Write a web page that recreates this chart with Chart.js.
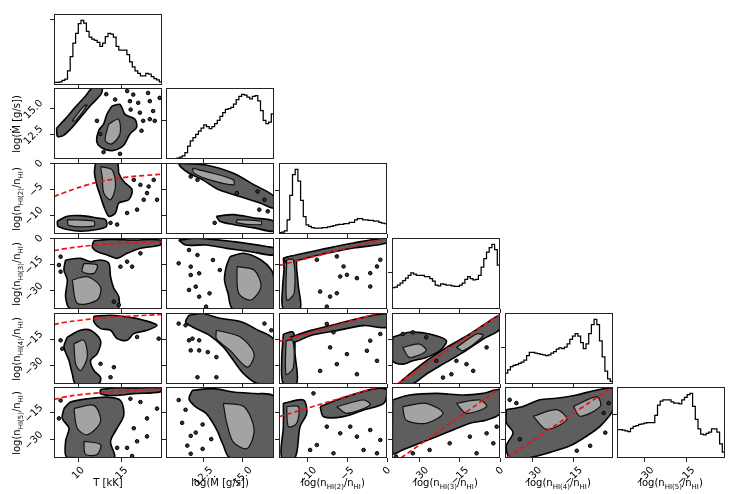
<!DOCTYPE html>
<html>
<head>
<meta charset="utf-8">
<script src="https://cdn.jsdelivr.net/npm/chart.js@4/dist/chart.umd.min.js"></script>
<style>
  body { margin: 0; background: #fff; width: 747px; height: 494px; position: relative; overflow: hidden; font-family: "DejaVu Sans", sans-serif; }
  canvas { position: absolute; }
  .lab { position: absolute; font-size: 10px; white-space: nowrap; color: #000; line-height: 13px; }
  .lab sub { font-size: 7px; vertical-align: -3px; line-height: 0; }
  .ylab { transform: translate(-50%, -50%) rotate(-90deg); }
  .xlab { transform: translateX(-50%); }
</style>
</head>
<body>
<script>
// axis ranges and ticks (T, Mdot, n2, n3, n4, n5)
const axisMin = [7.2, 10.1, -13.6, -40.3, -40.2, -40.2];
const axisMax = [19.6, 17.0, 0, 0, -0.4, -0.8];
const tickVals = [[10, 15], [12.5, 15], [-10, -5, 0], [-30, -15, 0], [-30, -15], [-30, -15]];
const tickText = [['10', '15'], ['12.5', '15.0'], ['−10', '−5', '0'], ['−30', '−15', '0'], ['−30', '−15'], ['−30', '−15']];
const axisLabels = ['T [kK]', 'log(Ṁ [g/s])', 'log(n<sub>HI(2)</sub>/n<sub>HI</sub>)',
  'log(n<sub>HI(3)</sub>/n<sub>HI</sub>)', 'log(n<sub>HI(4)</sub>/n<sub>HI</sub>)', 'log(n<sub>HI(5)</sub>/n<sub>HI</sub>)'];

// 1D histograms, 40 bins, peak = 100
const histT = [4, 4, 5, 7, 9, 22, 44, 65, 80, 95, 100, 96, 83, 74, 71, 69, 66, 60, 65, 75,
  80, 79, 74, 60, 54, 54, 54, 47, 36, 28, 22, 18, 14, 14, 18, 17, 13, 10, 8, 5];
const histM = [0, 0, 0, 0.5, 1.5, 3, 5, 10, 20, 28, 33, 38, 43, 48, 53, 50, 47, 50, 55, 60,
  66, 72, 77, 78, 80, 85, 92, 97, 100, 99, 96, 93, 97, 98, 90, 75, 60, 55, 57, 70];
const histN2 = [2, 3, 5, 22, 60, 92, 100, 82, 52, 27, 14, 12, 10, 9, 9, 9, 10, 10, 11, 12,
  13, 14, 15, 15, 16, 16, 18, 18, 22, 24, 24, 22, 22, 21, 21, 20, 20, 18, 17, 16];
const histN3 = [33, 34, 37, 40, 44, 48, 52, 56, 54, 52, 52, 52, 50, 50, 47, 43, 37, 36, 39, 38,
  37, 37, 36, 35, 35, 37, 40, 46, 50, 47, 45, 46, 52, 65, 78, 88, 95, 100, 92, 68];
const histN4 = [17, 22, 27, 29, 30, 32, 34, 37, 44, 49, 49, 48, 47, 46, 45, 44, 45, 48, 50, 54,
  56, 55, 57, 62, 69, 74, 78, 74, 64, 55, 62, 78, 92, 100, 92, 67, 42, 20, 8, 4];
const histN5 = [44, 44, 43, 42, 41, 46, 49, 50, 52, 53, 54, 55, 55, 55, 66, 82, 88, 90, 90, 90,
  87, 85, 85, 84, 90, 94, 98, 100, 80, 60, 45, 37, 36, 38, 40, 45, 45, 40, 22, 9];
const histTickAt = [102, 60, 67, 56, 57, 67];

// 2D density contours: outer (dark) regions, inner (light) regions, isolated specks, red relation
const darkMT = [
  [[7.5, 13.1], [8.5, 14.0], [9.7, 15.2], [10.8, 16.2], [11.6, 17.0], [12.7, 17.0], [12.6, 16.4], [11.5, 15.4], [10.4, 14.3], [9.3, 13.2], [8.3, 12.4], [7.6, 12.3]],
  [[13.84, 15.24], [14.78, 15.4], [15.35, 14.44], [16.49, 13.97], [16.68, 13.17], [15.92, 12.53], [15.16, 11.41], [14.03, 10.93], [12.89, 11.09], [12.13, 11.73], [12.32, 12.85], [12.89, 13.49], [13.27, 14.44]]
];
const lightMT = [
  [[9.29, 13.8], [10.61, 15.24], [10.99, 15.34], [9.66, 13.8]],
  [[13.46, 13.49], [14.6, 13.97], [14.78, 12.53], [13.84, 11.57], [13.08, 11.89]]
];
const dotsMT = [[14.22, 15.88], [15.92, 15.72], [16.87, 15.56], [18.2, 15.72], [18.58, 14.76], [18.2, 13.97], [18.77, 13.81], [17.44, 13.81], [17.06, 14.6], [16.3, 16.36], [18.0, 16.52], [19.33, 16.04], [12.13, 13.81], [12.51, 12.53], [12.89, 10.77], [17.25, 12.85], [14.78, 10.6], [13.2, 16.4], [15.6, 16.7], [16.0, 14.9]];

const darkN2T = [
  [[7.58, -11.15], [8.73, -10.2], [10.25, -10.08], [12.16, -10.52], [13.11, -10.84], [13.23, -12.1], [12.16, -12.74], [10.25, -13.06], [8.73, -12.74], [7.66, -12.1]],
  [[11.97, 0], [14.45, 0], [14.64, -1.96], [15.21, -3.55], [16.17, -5.13], [15.78, -7.04], [14.64, -7.67], [14.26, -9.57], [13.49, -10.2], [12.92, -8.3], [12.54, -6.4], [12.16, -4.5], [11.85, -1.96]]
];
const lightN2T = [
  [[8.73, -10.84], [11.78, -11.15], [11.78, -12.1], [8.92, -11.98]],
  [[12.54, -0.7], [13.88, -1.33], [14.26, -4.5], [13.69, -7.04], [12.92, -5.77], [12.73, -2.6]]
];
const dotsN2T = [[16.36, -3.23], [17.12, -4.18], [18.07, -4.5], [18.65, -3.23], [17.5, -7.04], [16.74, -8.94], [15.59, -9.57], [13.69, -11.47], [14.45, -11.79], [17.88, -5.77], [19.03, -7.04]];
const redN2T = [[7.2, -6.4], [8.5, -5.6], [9.5, -5.0], [11, -4.2], [12.5, -3.55], [14, -3.1], [15.6, -2.7], [17.5, -2.4], [19.6, -2.15]];

const darkN3T = [
  [[11.78, -1.51], [13.69, -0.76], [16.36, -1.14], [19.41, -1.14], [19.41, -3.97], [17.12, -5.86], [15.59, -8.7], [14.45, -11.54], [13.3, -9.65], [12.16, -7.76], [11.59, -4.92]],
  [[8.53, -12.49], [10.25, -11.54], [11.4, -13.43], [12.54, -12.49], [13.49, -14.38], [13.69, -21.95], [14.07, -28.57], [14.64, -33.3], [14.45, -40.3], [9.1, -40.3], [8.53, -33.3], [8.73, -23.84], [8.34, -18.16]]
];
const lightN3T = [
  [[9.3, -23.84], [11.02, -21.95], [12.54, -27.62], [12.16, -35.19], [9.87, -37.08]],
  [[10.63, -14.38], [12.16, -15.33], [11.78, -20.06], [10.44, -19.11]]
];
const dotsN3T = [[7.77, -15.33], [7.96, -19.11], [14.83, -16.27], [15.59, -13.43], [16.17, -16.27], [14.07, -36.14], [14.64, -38.03], [7.96, -10.6], [17.12, -8.7]];
const redN3T = [[7.2, -7.2], [8.5, -6.0], [10, -5.0], [11.5, -4.2], [13, -3.6], [15, -3.0], [17, -2.6], [19.6, -2.1]];

const darkN4T = [
  [[11.78, -2.19], [13.69, -1.63], [15.59, -2.56], [17.5, -4.45], [19.03, -7.27], [17.88, -10.09], [16.36, -11.97], [15.59, -15.73], [14.45, -14.79], [13.69, -10.09], [12.54, -9.15], [11.78, -5.39]],
  [[8.73, -13.85], [10.25, -10.09], [11.4, -10.09], [12.54, -15.73], [12.16, -23.25], [11.4, -27.01], [11.78, -32.65], [12.54, -36.41], [12.35, -39.98], [9.68, -39.98], [9.3, -34.53], [8.92, -27.01], [8.34, -19.49]]
];
const lightN4T = [[[9.49, -17.61], [10.63, -15.73], [11.02, -25.13], [10.25, -32.65], [9.68, -28.89]]];
const dotsN4T = [[7.96, -15.73], [8.15, -20.43], [16.74, -13.85], [19.22, -14.79], [12.54, -28.89], [14.07, -30.77], [13.69, -36.41]];
const redN4T = [[7.2, -6.9], [8.5, -5.6], [10, -4.6], [12, -3.5], [14, -2.7], [16.5, -2.0], [19.6, -1.25]];

const darkN5T = [
  [[8.34, -12.79], [9.11, -9.16], [11.02, -7.35], [13.3, -6.44], [14.83, -8.26], [15.21, -16.42], [14.45, -23.67], [13.69, -30.93], [14.07, -40], [8.73, -40], [8.53, -30.93], [8.92, -23.67], [8.15, -18.23]],
  [[12.54, -2.2], [14.07, -1.3], [16.36, -1.3], [19.41, -1.3], [19.41, -3.5], [16.36, -4.5], [14.07, -5.5], [12.54, -4.5]]
];
const lightN5T = [
  [[9.49, -12.79], [11.78, -10.98], [12.54, -20.05], [11.02, -27.3], [9.87, -23.67]],
  [[10.63, -30.93], [12.54, -32.74], [12.16, -38.19], [10.82, -38.19]]
];
const dotsN5T = [[7.77, -18.23], [7.96, -8.26], [15.97, -7.35], [17.12, -9.16], [17.88, -18.23], [19.03, -12.79], [16.36, -23.67], [16.74, -30.93], [17.88, -28.21], [15.59, -34.56], [16.17, -39.09], [14.45, -34.56]];
const redN5T = [[7.2, -7.7], [8.5, -6.3], [10, -5.2], [12, -4.2], [14, -3.4], [16.5, -2.6], [19.6, -1.9]];

const darkN2M = [
  [[10.91, -0.06], [12.66, -0.38], [14.41, -1.97], [15.73, -4.19], [17.0, -6.4], [17.0, -8.62], [16.12, -7.67], [14.8, -6.4], [13.49, -5.14], [12.44, -3.23], [11.57, -1.97], [11.02, -0.7]],
  [[13.32, -10.2], [14.41, -9.89], [15.73, -10.52], [17.0, -11.16], [17.0, -13.06], [15.73, -12.42], [14.41, -11.79], [13.54, -11.16]]
];
const lightN2M = [
  [[11.79, -1.01], [13.1, -1.97], [14.41, -3.23], [14.41, -4.19], [12.88, -3.23], [11.9, -1.97]],
  [[14.63, -10.84], [16.17, -11.16], [16.17, -11.79], [14.63, -11.47]]
];
const dotsN2M = [[11.68, -2.6], [12.11, -3.23], [14.63, -5.77], [15.95, -5.45], [16.39, -7.04], [16.6, -9.26], [13.21, -11.47], [16.06, -8.94]];

const darkN3M = [
  [[10.91, -1.14], [12.22, -0.19], [14.41, -2.08], [16.6, -4.92], [17.0, -5.87], [17.0, -9.65], [15.51, -7.76], [13.98, -5.87], [12.66, -3.97], [11.35, -3.97]],
  [[14.19, -10.6], [15.07, -8.7], [16.17, -12.49], [16.83, -18.16], [17.0, -23.84], [17.0, -40.3], [14.38, -40.3], [14.06, -31.41], [13.84, -23.84], [13.95, -16.27]]
];
const lightN3M = [[[14.63, -16.27], [15.73, -18.16], [16.17, -27.62], [15.51, -35.19], [14.74, -31.41]]];
const dotsN3M = [[10.91, -14.38], [11.68, -16.27], [11.68, -21.0], [12.22, -20.06], [12.0, -27.62], [11.57, -29.5], [12.22, -33.3], [12.88, -31.41], [12.66, -38.97], [13.54, -18.16], [13.1, -12.49], [11.57, -6.81], [12.11, -9.65]];

const darkN4M = [[[11.57, -1.63], [12.44, -0.69], [13.54, -3.32], [14.85, -5.2], [15.95, -9.9], [17.0, -15.54], [17.0, -40], [15.95, -40], [15.07, -34.53], [14.41, -27.01], [13.76, -19.49], [12.88, -12.91], [11.79, -8.21], [11.35, -5.39]]];
const lightN4M = [[[13.32, -10.09], [14.85, -13.85], [15.73, -23.25], [15.29, -30.77], [14.19, -21.37], [13.32, -14.79]]];
const dotsN4M = [[10.91, -6.33], [11.35, -7.27], [11.57, -15.73], [11.79, -14.79], [12.22, -15.73], [11.68, -21.37], [12.22, -21.37], [12.77, -22.31], [13.32, -25.13], [12.11, -36.41], [13.32, -36.41], [16.39, -6.33], [16.83, -10.09]];

const darkN5M = [[[11.79, -2.63], [13.1, -1.72], [14.41, -3.53], [15.73, -4.43], [17.0, -6.24], [17.0, -40], [14.19, -40], [13.76, -33.14], [13.32, -24.11], [12.66, -15.45], [12.0, -11.84], [11.57, -7.32]]];
const lightN5M = [[[13.76, -9.85], [15.07, -11.66], [15.73, -24.3], [15.29, -34.95], [14.41, -31.5], [13.98, -20.69]]];
const dotsN5M = [[10.91, -8.04], [11.35, -13.46], [11.13, -20.69], [11.68, -27.91], [12.0, -26.1], [11.46, -33.33], [12.44, -35.14], [11.68, -37.84], [12.99, -29.72], [12.44, -21.59]];

const darkN3N2 = [
  [[-13.05, -11.4], [-11.37, -9.5], [-8.42, -6.65], [-4.21, -2.85], [0, 0], [0, -2.85], [-4.21, -5.7], [-8.42, -9.5], [-10.95, -12.35], [-12.63, -14.25]],
  [[-13.05, -11.4], [-11.58, -10.45], [-11.37, -18.05], [-11.16, -27.55], [-10.95, -40.3], [-13.05, -40.3], [-13.14, -27.55], [-12.97, -18.05]]
];
const lightN3N2 = [[[-12.63, -12.35], [-11.79, -12.35], [-11.7, -31.35], [-12.63, -35.15]]];
const dotsN3N2 = [[-8.84, -12.35], [-6.32, -10.45], [-5.47, -16.15], [-5.05, -20.9], [-3.79, -22.8], [-2.11, -19.95], [-1.26, -16.15], [-8.42, -30.4], [-7.16, -33.25], [-6.32, -31.35], [-7.58, -38.95], [-2.11, -27.55], [-0.84, -12.35], [-5.89, -21.85]];
const redN3N2 = [[-13.6, -15.6], [0, 0]];

const darkN4N2 = [
  [[-12.21, -14.04], [-9.68, -10.28], [-6.32, -6.52], [-2.95, -2.76], [0, -0.88], [0, -8.4], [-2.95, -7.46], [-6.32, -10.28], [-9.68, -13.1], [-11.79, -16.86]],
  [[-13.05, -12.16], [-11.79, -11.22], [-11.58, -23.44], [-11.37, -39.98], [-13.05, -39.98], [-13.26, -27.2]]
];
const lightN4N2 = [[[-12.71, -15.92], [-11.87, -15.92], [-11.79, -30.96], [-12.71, -34.72]]];
const dotsN4N2 = [[-7.58, -6.52], [-6.74, -11.22], [-7.16, -19.68], [-5.05, -23.44], [-2.53, -21.56], [-2.11, -15.92], [-0.84, -12.16], [-6.32, -29.08], [-3.79, -34.72], [-1.26, -27.2], [-8.42, -32.84]];
const redN4N2 = [[-13.6, -16.3], [-1.1, -0.5]];

const darkN5N2 = [
  [[-13.05, -9.87], [-10.53, -8.02], [-10.11, -15.41], [-10.95, -22.81], [-11.58, -40], [-13.26, -40], [-13.05, -22.81]],
  [[-8.42, -11.72], [-6.32, -8.02], [-3.79, -4.33], [-1.26, -1.55], [0, -2.48], [-0.42, -9.87], [-2.95, -13.57], [-5.47, -17.26], [-8.0, -17.26]]
];
const lightN5N2 = [
  [[-12.63, -11.72], [-11.16, -11.72], [-11.37, -20.96], [-12.42, -22.81]],
  [[-6.32, -11.72], [-2.95, -8.02], [-2.11, -10.79], [-5.05, -15.41]]
];
const dotsN5N2 = [[-9.26, -4.33], [-7.58, -22.81], [-5.89, -26.5], [-4.63, -22.81], [-3.79, -28.35], [-2.11, -24.65], [-0.84, -30.2], [-9.68, -35.74], [-8.84, -32.97], [-6.74, -37.59], [-2.95, -35.74], [-1.26, -37.59]];
const redN5N2 = [[-13.6, -17.3], [-1.3, -1.0]];

const darkN4N3 = [
  [[-20.02, -19.68], [-11.25, -12.16], [-3.74, -4.64], [0, -1.82], [0, -9.34], [-6.26, -14.98], [-13.77, -22.5], [-21.28, -29.08], [-27.54, -34.72], [-32.55, -39.98], [-37.55, -39.98], [-33.8, -34.72], [-27.54, -27.2]],
  [[-40.05, -14.04], [-33.79, -11.22], [-26.28, -12.16], [-20.02, -15.92], [-22.52, -21.56], [-27.54, -25.32], [-32.55, -27.2], [-36.3, -29.08], [-40.05, -27.2]]
];
const lightN4N3 = [
  [[-36.3, -19.68], [-30.03, -17.8], [-27.54, -21.56], [-33.8, -25.32]],
  [[-16.26, -19.68], [-8.75, -12.16], [-6.26, -13.1], [-13.77, -21.56]]
];
const dotsN4N3 = [[-36.3, -12.16], [-32.55, -11.22], [-27.54, -14.04], [-16.26, -27.2], [-12.5, -29.08], [-10.0, -32.84], [-21.28, -36.6], [-18.14, -34.72], [-23.77, -27.2], [-5.0, -19.68]];
const redN4N3 = [[-38.2, -40], [0, -1.2]];

const darkN5N3 = [[[-40.05, -8.02], [-33.79, -5.25], [-23.77, -4.33], [-13.77, -5.25], [-6.26, -4.33], [0, -2.48], [0, -15.41], [-5.0, -19.11], [-11.25, -20.96], [-17.51, -24.65], [-23.77, -28.35], [-30.03, -32.05], [-36.3, -35.74], [-40.05, -37.59]]];
const lightN5N3 = [
  [[-36.3, -11.72], [-27.54, -9.87], [-21.28, -15.41], [-27.54, -20.96], [-35.05, -19.11]],
  [[-16.26, -9.87], [-7.51, -8.02], [-5.0, -11.72], [-12.5, -15.41]]
];
const dotsN5N3 = [[-38.8, -39.44], [-32.55, -37.59], [-26.28, -35.74], [-18.77, -32.05], [-11.25, -28.35], [-5.0, -26.5], [-2.5, -32.05], [-8.75, -37.59], [-1.25, -22.81]];
const redN5N3 = [[-37, -40.2], [0, -1.5]];

const darkN5N4 = [[[-39.71, -13.39], [-33.53, -11.57], [-27.35, -7.92], [-21.17, -7.01], [-13.75, -5.19], [-6.33, -2.46], [-0.4, -1.55], [-0.4, -13.39], [-5.1, -22.5], [-10.04, -27.97], [-16.22, -33.43], [-23.64, -37.08], [-31.06, -39.99], [-38.47, -39.99], [-39.71, -33.43], [-37.24, -26.14], [-39.71, -20.68]]];
const lightN5N4 = [
  [[-29.82, -17.03], [-21.17, -13.39], [-17.46, -18.86], [-24.88, -24.32]],
  [[-14.99, -11.57], [-6.33, -6.1], [-5.1, -11.57], [-12.52, -17.03]]
];
const dotsN5N4 = [[-38.47, -7.92], [-36.0, -9.75], [-3.86, -15.21], [-2.01, -9.75], [-8.81, -33.43], [-13.75, -36.17], [-3.24, -26.14], [-34.76, -29.79]];
const redN5N4 = [[-39.7, -40.2], [-0.9, -1.2]];

// which arrays go in which cell: [row, col, dark, light, dots, red]
const cells = [
  [1, 0, darkMT, lightMT, dotsMT, null],
  [2, 0, darkN2T, lightN2T, dotsN2T, redN2T],
  [2, 1, darkN2M, lightN2M, dotsN2M, null],
  [3, 0, darkN3T, lightN3T, dotsN3T, redN3T],
  [3, 1, darkN3M, lightN3M, dotsN3M, null],
  [3, 2, darkN3N2, lightN3N2, dotsN3N2, redN3N2],
  [4, 0, darkN4T, lightN4T, dotsN4T, redN4T],
  [4, 1, darkN4M, lightN4M, dotsN4M, null],
  [4, 2, darkN4N2, lightN4N2, dotsN4N2, redN4N2],
  [4, 3, darkN4N3, lightN4N3, dotsN4N3, redN4N3],
  [5, 0, darkN5T, lightN5T, dotsN5T, redN5T],
  [5, 1, darkN5M, lightN5M, dotsN5M, null],
  [5, 2, darkN5N2, lightN5N2, dotsN5N2, redN5N2],
  [5, 3, darkN5N3, lightN5N3, dotsN5N3, redN5N3],
  [5, 4, darkN5N4, lightN5N4, dotsN5N4, redN5N4]
];
const hists = [histT, histM, histN2, histN3, histN4, histN5];

// layout
const colLeft = [54, 166, 279, 392, 505, 617];
const rowTop = [14, 88, 163, 238, 313, 387];
const W = 108, H = 71, ML = 46, MB = 46, P = 12;

const framePlugin = {
  id: 'frame',
  afterDatasetsDraw(chart) {
    const a = chart.chartArea, ctx = chart.ctx;
    ctx.save();
    ctx.strokeStyle = '#222';
    ctx.lineWidth = 1;
    ctx.strokeRect(Math.round(a.left) + 0.5, Math.round(a.top) + 0.5, Math.round(a.right - a.left) - 1, Math.round(a.bottom - a.top) - 1);
    ctx.restore();
  }
};

// tick labels rotated 45 degrees and centred on their tick, as matplotlib does
const tickLabelPlugin = {
  id: 'rotTicks',
  afterDraw(chart, args, opts) {
    const ctx = chart.ctx, a = chart.chartArea, h = 7.5;
    ctx.save();
    ctx.font = '10px "DejaVu Sans"';
    ctx.fillStyle = '#000';
    ctx.textAlign = 'center';
    ctx.textBaseline = 'middle';
    const put = (t, cx, cy) => {
      ctx.save(); ctx.translate(cx, cy); ctx.rotate(-Math.PI / 4); ctx.fillText(t, 0, 0); ctx.restore();
    };
    if (opts.xIdx >= 0) tickVals[opts.xIdx].forEach((v, i) => {
      const t = tickText[opts.xIdx][i];
      const b = (ctx.measureText(t).width + h) * Math.SQRT1_2;
      put(t, chart.scales.x.getPixelForValue(v), a.bottom + 8 + b / 2);
    });
    if (opts.yIdx >= 0) tickVals[opts.yIdx].forEach((v, i) => {
      const t = tickText[opts.yIdx][i];
      const b = (ctx.measureText(t).width + h) * Math.SQRT1_2;
      put(t, a.left - 10 - b / 2, chart.scales.y.getPixelForValue(v) + 1);
    });
    ctx.restore();
  }
};

function xy(list) { return list.map(p => ({ x: p[0], y: p[1] })); }

function axis(kind, vals, min, max) {
  const horiz = kind === 'x';
  return {
    type: 'linear',
    position: horiz ? 'bottom' : 'left',
    min: min, max: max,
    afterBuildTicks: s => { s.ticks = vals.map(v => ({ value: v })); },
    afterFit: s => { if (horiz) s.height = MB; else s.width = ML; },
    border: { display: false },
    grid: { drawOnChartArea: false, drawTicks: true, tickLength: 4, color: '#222', tickWidth: 1 },
    ticks: { display: false, autoSkip: false }
  };
}

function makeChart(r, c, datasets, yAxis, yLabelIdx) {
  const cv = document.createElement('canvas');
  cv.width = ML + W + P;
  cv.height = P + H + MB;
  cv.style.left = (colLeft[c] - ML) + 'px';
  cv.style.top = (rowTop[r] - P) + 'px';
  document.body.appendChild(cv);
  new Chart(cv, {
    type: 'line',
    data: { datasets: datasets },
    options: {
      responsive: false, animation: false, events: [],
      layout: { padding: { top: P, right: P, left: 0, bottom: 0 } },
      plugins: {
        legend: { display: false }, tooltip: { enabled: false },
        rotTicks: { xIdx: r === 5 ? c : -1, yIdx: yLabelIdx }
      },
      scales: {
        x: axis('x', tickVals[c], axisMin[c], axisMax[c]),
        y: yAxis
      }
    },
    plugins: [framePlugin, tickLabelPlugin]
  });
}

// diagonal histograms
hists.forEach((counts, k) => {
  const step = (axisMax[k] - axisMin[k]) / counts.length;
  const pts = [{ x: axisMin[k], y: 0 }];
  counts.forEach((v, i) => pts.push({ x: axisMin[k] + i * step, y: v }));
  pts.push({ x: axisMax[k], y: counts[counts.length - 1] });
  pts.push({ x: axisMax[k], y: 0 });
  const ds = [{ data: pts, stepped: true, borderColor: '#000', borderWidth: 1.25, pointRadius: 0, fill: false }];
  makeChart(k, k, ds, axis('y', [histTickAt[k]], 0, 110), -1);
});

// off-diagonal density panels
cells.forEach(([r, c, dark, light, dots, red]) => {
  const ds = [];
  dark.forEach(poly => ds.push({
    data: xy(poly.concat([poly[0]])), borderColor: '#000', borderWidth: 1.6,
    backgroundColor: '#5e5e5e', fill: 'shape', pointRadius: 0, tension: 0.3, order: 4
  }));
  light.forEach(poly => ds.push({
    data: xy(poly.concat([poly[0]])), borderColor: '#111', borderWidth: 1.2,
    backgroundColor: '#a3a3a3', fill: 'shape', pointRadius: 0, tension: 0.3, order: 3
  }));
  ds.push({
    data: xy(dots), showLine: false, pointRadius: 1.8, pointBackgroundColor: '#333',
    pointBorderColor: '#000', pointBorderWidth: 1, order: 2
  });
  if (red) ds.push({
    data: xy(red), borderColor: '#ee1111', borderDash: [5, 3], borderWidth: 1.7,
    pointRadius: 0, tension: 0.4, fill: false, order: 1
  });
  makeChart(r, c, ds, axis('y', tickVals[r], axisMin[r], axisMax[r]), c === 0 ? r : -1);
});

// axis titles
axisLabels.forEach((txt, k) => {
  const xl = document.createElement('div');
  xl.className = 'lab xlab';
  xl.innerHTML = txt;
  xl.style.left = (colLeft[k] + W / 2) + 'px';
  xl.style.top = '476px';
  document.body.appendChild(xl);
  if (k > 0) {
    const yl = document.createElement('div');
    yl.className = 'lab ylab';
    yl.innerHTML = txt;
    yl.style.left = '16px';
    yl.style.top = (rowTop[k] + H / 2) + 'px';
    document.body.appendChild(yl);
  }
});
</script>
</body>
</html>
